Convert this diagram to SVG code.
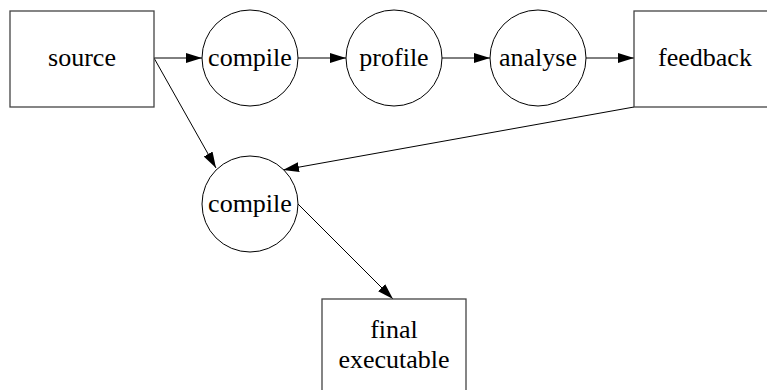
<svg xmlns="http://www.w3.org/2000/svg" width="767" height="390" viewBox="0 0 767 390">
  <style>
    .box { fill: #ffffff; stroke: #444444; stroke-width: 1.3; }
    .proc { fill: #ffffff; stroke: #000000; stroke-width: 1; }
    .edge { fill: none; stroke: #000000; stroke-width: 1; marker-end: url(#arrow); }
    .label { font-size: 26px; fill: #000000; text-anchor: middle; }
  </style>
  <defs>
    <marker id="arrow" markerUnits="userSpaceOnUse" markerWidth="17" markerHeight="12" refX="16" refY="6" orient="auto">
      <path d="M0,1 L16,6 L0,11 z" fill="#000000"/>
    </marker>
  </defs>
  <rect width="767" height="390" fill="#ffffff"/>

  <g id="connectors">
    <line class="edge" x1="154" y1="58" x2="202" y2="58"/>
    <line class="edge" x1="298" y1="58" x2="346" y2="58"/>
    <line class="edge" x1="442" y1="58" x2="490" y2="58"/>
    <line class="edge" x1="586" y1="58" x2="634" y2="58"/>
    <line class="edge" x1="154" y1="58" x2="216" y2="168"/>
    <line class="edge" x1="634" y1="107" x2="283" y2="170"/>
    <line class="edge" x1="298" y1="204" x2="393" y2="299"/>
  </g>

  <g font-family="'Liberation Serif', 'Times New Roman', 'DejaVu Serif', serif">
    <g id="source">
      <rect class="box" x="10" y="11" width="144" height="96"/>
      <text class="label" x="82" y="66">source</text>
    </g>
    <g id="compile1">
      <circle class="proc" cx="250" cy="58" r="48"/>
      <text class="label" x="250" y="66">compile</text>
    </g>
    <g id="profile">
      <circle class="proc" cx="394" cy="58" r="48"/>
      <text class="label" x="394" y="66">profile</text>
    </g>
    <g id="analyse">
      <circle class="proc" cx="538" cy="58" r="48"/>
      <text class="label" x="538" y="66">analyse</text>
    </g>
    <g id="feedback">
      <rect class="box" x="634" y="11" width="144" height="96"/>
      <text class="label" x="705" y="66">feedback</text>
    </g>
    <g id="compile2">
      <circle class="proc" cx="250" cy="204" r="48"/>
      <text class="label" x="250" y="212">compile</text>
    </g>
    <g id="final">
      <rect class="box" x="322" y="299" width="144" height="96"/>
      <text class="label" x="394" y="338">final</text>
      <text class="label" x="394" y="368">executable</text>
    </g>
  </g>
</svg>
